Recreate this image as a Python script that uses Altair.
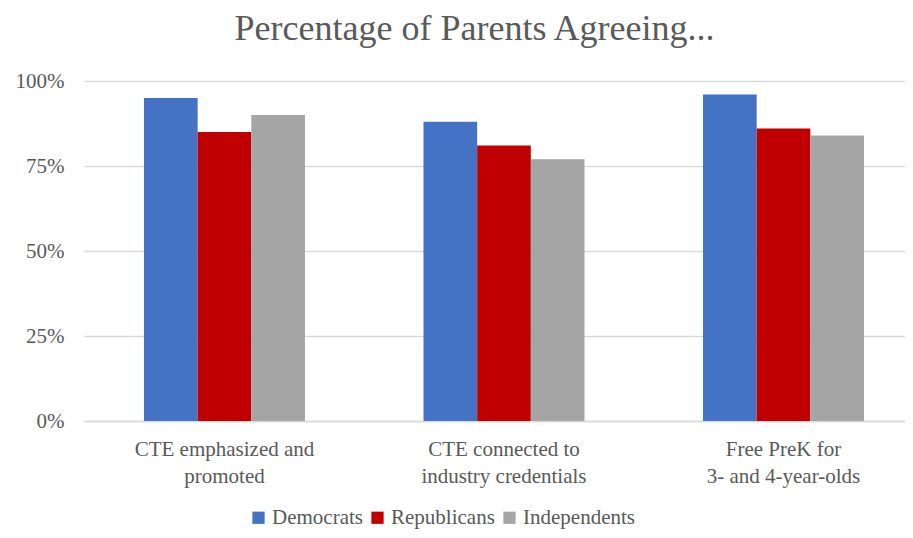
import altair as alt
import pandas as pd

categories = ["CTE emphasized and|promoted", "CTE connected to|industry credentials", "Free PreK for|3- and 4-year-olds"]
series = ["Democrats", "Republicans", "Independents"]
democrats = [0.95, 0.88, 0.96]
republicans = [0.85, 0.81, 0.86]
independents = [0.90, 0.77, 0.84]
colors = ["#4472C4", "#C00000", "#A5A5A5"]

rows = []
for i, c in enumerate(categories):
    for s, vals in zip(series, [democrats, republicans, independents]):
        rows.append({"category": c, "party": s, "value": vals[i]})
df = pd.DataFrame(rows)

font = "Liberation Serif"
gray = "#595959"

chart = alt.Chart(df).mark_bar().encode(
    x=alt.X("category:N", sort=categories, title=None,
            scale=alt.Scale(paddingInner=0.424, paddingOuter=0.1806, align=0.594),
            axis=alt.Axis(labelAngle=0, labelExpr="split(datum.label, '|')",
                          labelFont=font, labelFontSize=21, labelColor=gray,
                          labelLineHeight=27, labelPadding=17, ticks=False,
                          domainColor="#D9D9D9", domainWidth=1.5, labelLimit=400)),
    xOffset=alt.XOffset("party:N", sort=series),
    y=alt.Y("value:Q", title=None,
            scale=alt.Scale(domain=[0, 1]),
            axis=alt.Axis(format=".0%", values=[0, 0.25, 0.5, 0.75, 1],
                          labelFont=font, labelFontSize=21, labelColor=gray,
                          labelPadding=20, ticks=False, domain=False,
                          gridColor="#D9D9D9", gridWidth=1.5)),
    color=alt.Color("party:N", sort=series,
                    scale=alt.Scale(domain=series, range=colors),
                    legend=alt.Legend(title=None, orient="none", direction="horizontal",
                                      legendX=164, legendY=426,
                                      symbolType="square", symbolSize=150,
                                      symbolStrokeWidth=0, symbolOpacity=1,
                                      labelFont=font, labelFontSize=21, labelColor=gray,
                                      labelOffset=3, columnPadding=4)),
).properties(
    width=821,
    height=340,
    title=alt.TitleParams("Percentage of Parents Agreeing...", font=font, fontSize=36,
                          color=gray, fontWeight="normal", anchor="middle", dx=-20,
                          offset=22),
    autosize=alt.AutoSizeParams(type="none"),
    padding={"left": 76, "top": 73, "right": 0, "bottom": 109},
).configure_view(stroke=None)

chart.save("out.html", embed_options={"renderer": "svg", "actions": False})
